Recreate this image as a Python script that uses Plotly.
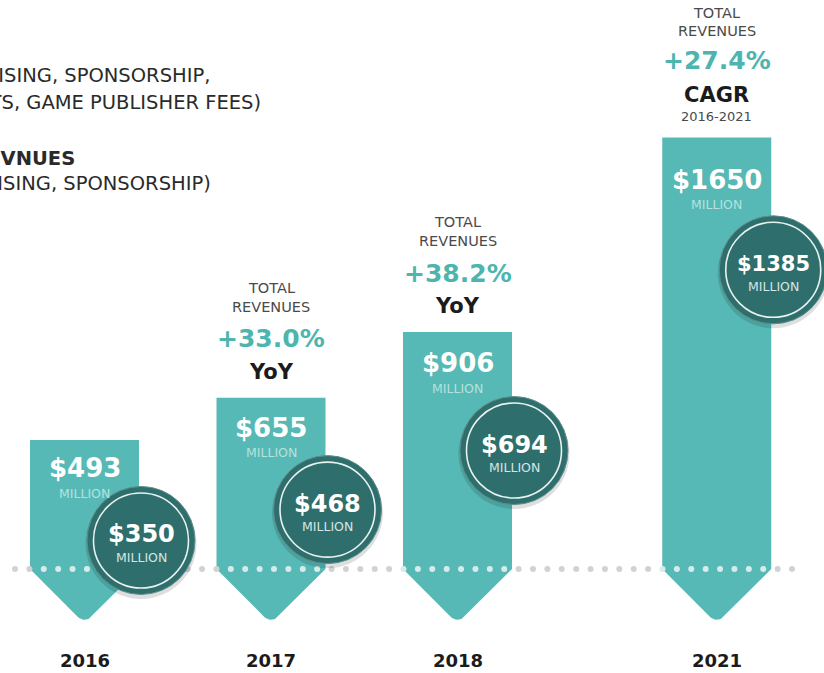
import numpy as np
import plotly.graph_objects as go

# ---------------------------------------------------------------------------
# Data (US$ million)
# ---------------------------------------------------------------------------
years = ["2016", "2017", "2018", "2021"]
total_revenues = [493, 655, 906, 1650]
brand_revenues = [350, 468, 694, 1385]
growth_pct = ["", "+33.0%", "+38.2%", "+27.4%"]
growth_kind = ["", "YoY", "YoY", "CAGR"]
growth_note = ["", "", "", "2016-2021"]

legend_lines = [
    ("(ADVERTISING, SPONSORSHIP,", False),
    ("MEDIA RIGHTS, MERCHANDISE & TICKETS, GAME PUBLISHER FEES)", False),
    ("BRAND REVNUES", True),
    ("(ADVERTISING, SPONSORSHIP)", False),
]

# ---------------------------------------------------------------------------
# Layout / style
# ---------------------------------------------------------------------------
W, H = 824, 673
SLOT = [0, 1, 2, 3.39]          # 2019-2020 are skipped, so 2021 sits further out
PX_X = 186.5                    # pixels per slot
PX_Y = 0.2615                   # pixels per $M
X0_PX = 84.5                    # pixel column of the first slot
BASE_PX = 569                   # pixel row of the baseline
BAR_W = 109 / PX_X
UX, UY = 1 / PX_X, 1 / PX_Y     # data units per pixel

TEAL = "#56b9b5"
DARK = "#2e6f6d"
PCT = "#4db5ae"
GREY = "#4a4a4a"
BLACK = "#1b1b1b"
FONT = "DejaVu Sans"

LABEL_DROP = [28, 30, 31, 42]   # px from bar top to value label
CIRCLE_DROP = 63                # px from brand value to circle centre
LEGEND_POS = [(212, 75), (263, 102), (77, 158), (213, 184)]  # right end px, row px


def arrow_shape(xc, v):
    """Bar with a downward arrow tip (45 deg sides, rounded point) below the baseline."""
    hw_px = BAR_W / 2 * PX_X
    r = 9
    cy = -hw_px + r * np.sqrt(2)
    ang = np.linspace(-np.pi / 4, -3 * np.pi / 4, 12)
    arc_x = [xc + r * np.cos(a) * UX for a in ang]
    arc_y = [(cy + r * np.sin(a)) * UY for a in ang]
    xs = [xc - BAR_W / 2, xc + BAR_W / 2, xc + BAR_W / 2] + arc_x + [xc - BAR_W / 2, xc - BAR_W / 2]
    ys = [v, v, 0] + arc_y + [0, v]
    return xs, ys


fig = go.Figure()

# bars with arrow tips
for xc, v in zip(SLOT, total_revenues):
    xs, ys = arrow_shape(xc, v)
    fig.add_trace(go.Scatter(
        x=xs, y=ys, mode="lines", fill="toself",
        fillcolor=TEAL, line=dict(width=0, color=TEAL),
        hoverinfo="skip",
    ))

# dotted baseline
dot_x = (np.linspace(15, 792, 55) - X0_PX) / PX_X
on_bar = [any(abs(d - s) <= BAR_W / 2 for s in SLOT) for d in dot_x]
fig.add_trace(go.Scatter(
    x=dot_x, y=[0] * len(dot_x), mode="markers",
    marker=dict(size=6, color=["#d7ecea" if b else "#d2d2d2" for b in on_bar]),
    hoverinfo="skip",
))

# brand revenue discs
cx = [s + BAR_W / 2 + 2 * UX for s in SLOT]
cy = [b - CIRCLE_DROP * UY for b in brand_revenues]
fig.add_trace(go.Scatter(
    x=cx, y=[c - 3 * UY for c in cy], mode="markers",
    marker=dict(size=111, color="rgba(0,0,0,0.13)", line=dict(width=0)),
    hoverinfo="skip",
))
fig.add_trace(go.Scatter(
    x=cx, y=cy, mode="markers",
    marker=dict(size=108, color=DARK, line=dict(width=1, color="#5f8f8d")),
    hovertemplate="%{y}<extra></extra>",
))
fig.add_trace(go.Scatter(
    x=cx, y=cy, mode="markers",
    marker=dict(size=95, color="rgba(0,0,0,0)", line=dict(width=1.6, color="#e8f2f1")),
    hoverinfo="skip",
))


def note(x, y, text, size, color, yshift, bold=False):
    fig.add_annotation(
        x=x, y=y, text=f"<b>{text}</b>" if bold else text,
        showarrow=False, yshift=yshift, xanchor="center", yanchor="middle",
        font=dict(family=FONT, size=size, color=color),
    )


for i, (xc, v, b) in enumerate(zip(SLOT, total_revenues, brand_revenues)):
    # bar value
    note(xc, v, f"${v}", 26, "white", -LABEL_DROP[i], bold=True)
    note(xc, v, "MILLION", 12.5, "#b4e2df", -(LABEL_DROP[i] + 25))
    # disc value
    disc_txt = f"${b}"
    note(cx[i], cy[i], disc_txt, 24 if len(disc_txt) <= 4 else 21, "white", 6, bold=True)
    note(cx[i], cy[i], "MILLION", 12.5, "#d5e6e5", -17)
    # year
    note(xc, 0, years[i], 18, BLACK, -91, bold=True)

    # growth block above the bar
    if growth_pct[i]:
        if growth_note[i]:
            offs = [125, 107, 77, 43]
        else:
            offs = [110, 91, 59, 26]
        note(xc, v, "TOTAL", 14.5, GREY, offs[0])
        note(xc, v, "REVENUES", 14.5, GREY, offs[1])
        note(xc, v, growth_pct[i], 25, PCT, offs[2], bold=True)
        note(xc, v, growth_kind[i], 21, BLACK, offs[3], bold=True)
        if growth_note[i]:
            note(xc, v, growth_note[i], 13, GREY, 21)

# legend text, cut off by the left edge
for (text, bold), (rx, ry) in zip(legend_lines, LEGEND_POS):
    fig.add_annotation(
        xref="paper", yref="paper", x=rx / W, y=1 - ry / H,
        text=f"<b>{text}</b>" if bold else text,
        showarrow=False, xanchor="right", yanchor="middle",
        font=dict(family=FONT, size=19.5, color="#2a2a2a"),
    )

fig.update_layout(
    width=W, height=H,
    margin=dict(l=0, r=0, t=0, b=0),
    paper_bgcolor="white", plot_bgcolor="white",
    showlegend=False,
    xaxis=dict(range=[-X0_PX / PX_X, (W - X0_PX) / PX_X], visible=False, fixedrange=True),
    yaxis=dict(range=[-(H - BASE_PX) / PX_Y, BASE_PX / PX_Y], visible=False, fixedrange=True),
)

fig.write_html(
    "out.html",
    config={"displayModeBar": False},
    post_script="document.body.style.margin='0';document.body.style.overflow='hidden';",
)
